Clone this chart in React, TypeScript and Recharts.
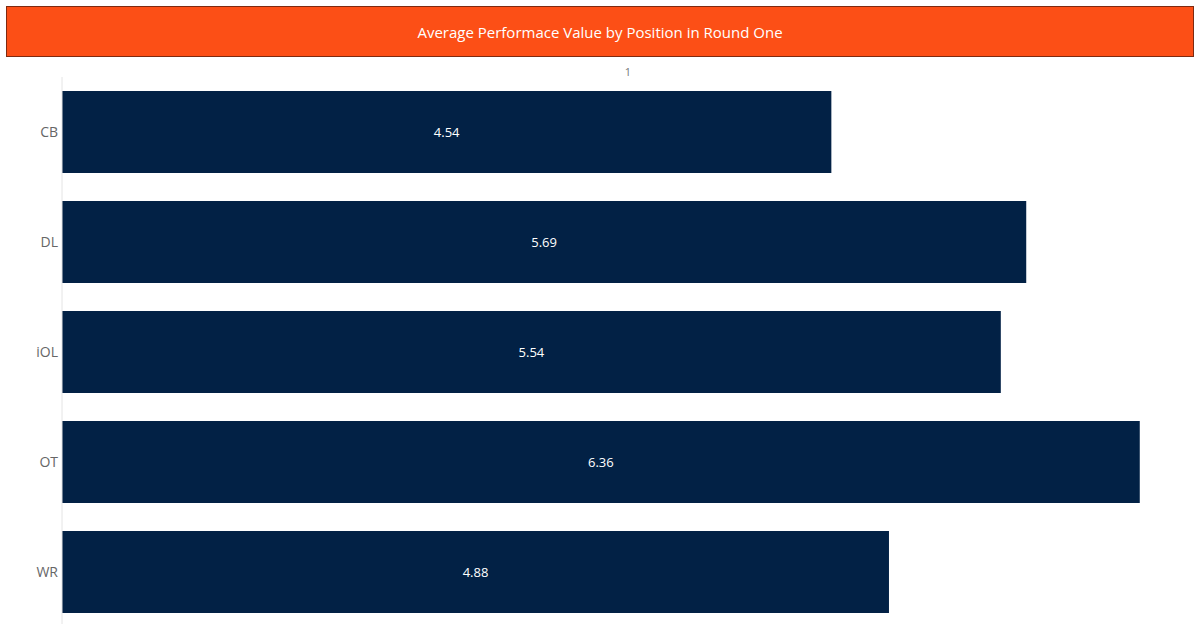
import { Bar, BarChart, LabelList, XAxis, YAxis } from "recharts"

const positions = ["CB", "DL", "iOL", "OT", "WR"]
const avgValue = [4.54, 5.69, 5.54, 6.36, 4.88]
const columnHeader = "1"
const title = "Average Performace Value by Position in Round One"

const data = positions.map((position, i) => ({ position, value: avgValue[i] }))

const font = "'Open Sans', 'Noto Sans', sans-serif"

export default function App() {
  return (
    <div
      style={{
        position: "absolute",
        top: 0,
        left: 0,
        width: 1200,
        height: 624,
        overflow: "hidden",
        background: "#fff",
        fontFamily: font,
      }}
    >
      <div
        style={{
          position: "absolute",
          left: 6,
          top: 6,
          width: 1186,
          height: 49,
          background: "#fc4f16",
          border: "1px solid #7e2a10",
          color: "#fff",
          fontSize: 15,
          display: "flex",
          alignItems: "center",
          justifyContent: "center",
        }}
      >
        {title}
      </div>
      <div
        style={{
          position: "absolute",
          left: 0,
          top: 64,
          width: 1256,
          textAlign: "center",
          fontSize: 11,
          color: "#777",
        }}
      >
        {columnHeader}
      </div>
      <BarChart
        width={1200}
        height={627}
        data={data}
        layout="vertical"
        margin={{ top: 77, right: 6, bottom: 0, left: 0 }}
        style={{ position: "absolute", top: 0, left: 0 }}
      >
        <XAxis type="number" domain={[0, 6.68]} hide />
        <YAxis
          type="category"
          dataKey="position"
          width={62}
          axisLine={{ stroke: "#e4e4e4" }}
          tickLine={false}
          tickSize={2}
          tickMargin={2}
          tick={{ fill: "#666", fontSize: 14, fontFamily: font }}
        />
        <Bar dataKey="value" fill="#022145" barSize={82} isAnimationActive={false}>
          <LabelList dataKey="value" position="center" fill="#fff" fontSize={13} fontFamily={font} />
        </Bar>
      </BarChart>
    </div>
  )
}
